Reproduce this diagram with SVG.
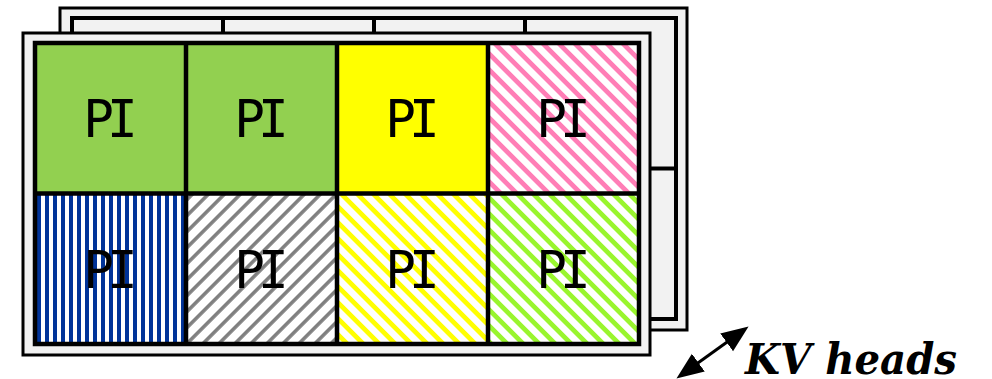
<svg xmlns="http://www.w3.org/2000/svg" width="992" height="379" viewBox="0 0 992 379">
<defs>
<style>
.frame{fill:#f2f2f2;stroke:#000;stroke-width:3}
.grid{fill:none;stroke:#000;stroke-width:4.5}
.bgrid{fill:#f2f2f2;stroke:#000;stroke-width:4}
.lbl{font-family:"DejaVu Sans Mono",monospace;font-size:51px;letter-spacing:-7px;fill:#000;text-anchor:middle}
.kv{font-family:"DejaVu Serif",serif;font-size:43px;font-weight:bold;font-style:italic;fill:#000}
</style>
<pattern id="pk" width="11.314" height="11.314" patternUnits="userSpaceOnUse" patternTransform="rotate(-45)"><rect width="11.314" height="11.314" fill="#fff"/><rect width="4.7" height="11.314" fill="#ff7eb6"/></pattern>
<pattern id="yl" width="11.314" height="11.314" patternUnits="userSpaceOnUse" patternTransform="rotate(-45)"><rect width="11.314" height="11.314" fill="#fff"/><rect width="4.7" height="11.314" fill="#ffff00"/></pattern>
<pattern id="lg" width="11.314" height="11.314" patternUnits="userSpaceOnUse" patternTransform="rotate(-45)"><rect width="11.314" height="11.314" fill="#fff"/><rect width="4.7" height="11.314" fill="#99f52e"/></pattern>
<pattern id="gy" width="11.314" height="11.314" patternUnits="userSpaceOnUse" patternTransform="rotate(45)"><rect width="11.314" height="11.314" fill="#fff"/><rect width="3.6" height="11.314" fill="#808080"/></pattern>
<pattern id="bl" x="5" width="8" height="8" patternUnits="userSpaceOnUse"><rect width="8" height="8" fill="#fff"/><rect width="4" height="8" fill="#003399"/></pattern>
<marker id="ah" markerUnits="userSpaceOnUse" markerWidth="30" markerHeight="24" refX="22" refY="11" orient="auto-start-reverse"><path d="M0,0 L27,11 L0,22 Z" fill="#000"/></marker>
</defs>
<g id="back-layer">
<rect class="frame" x="60" y="8" width="627" height="322"/>
<rect class="bgrid" x="72" y="18" width="604" height="301"/>
<path d="M223,18V319M374,18V319M525,18V319M72,168.5H676" fill="none" stroke="#000" stroke-width="4"/>
</g>
<g id="front-layer">
<rect class="frame" x="23" y="33" width="627" height="322"/>
</g>
<g id="cell-1"><rect x="35" y="43" width="151" height="150.5" fill="#92d050"/><text class="lbl" x="107" y="137">PI</text></g>
<g id="cell-2"><rect x="186" y="43" width="151" height="150.5" fill="#92d050"/><text class="lbl" x="258" y="137">PI</text></g>
<g id="cell-3"><rect x="337" y="43" width="151" height="150.5" fill="#ffff00"/><text class="lbl" x="409" y="137">PI</text></g>
<g id="cell-4"><rect x="488" y="43" width="151" height="150.5" fill="url(#pk)"/><text class="lbl" x="560" y="137">PI</text></g>
<g id="cell-5"><rect x="35" y="193.5" width="151" height="150.5" fill="url(#bl)"/><text class="lbl" x="107" y="288">PI</text></g>
<g id="cell-6"><rect x="186" y="193.5" width="151" height="150.5" fill="url(#gy)"/><text class="lbl" x="258" y="288">PI</text></g>
<g id="cell-7"><rect x="337" y="193.5" width="151" height="150.5" fill="url(#yl)"/><text class="lbl" x="409" y="288">PI</text></g>
<g id="cell-8"><rect x="488" y="193.5" width="151" height="150.5" fill="url(#lg)"/><text class="lbl" x="560" y="288">PI</text></g>
<g id="grid-lines">
<rect class="grid" x="35" y="43" width="604" height="301"/>
<path class="grid" d="M186,43V344M337,43V344M488,43V344M35,193.5H639"/>
</g>
<g id="connectors">
<line x1="680.5" y1="375.5" x2="744.5" y2="329.5" stroke="#000" stroke-width="3" marker-start="url(#ah)" marker-end="url(#ah)"/>
</g>
<g id="label-kv"><text class="kv" x="745" y="374" textLength="212" lengthAdjust="spacingAndGlyphs">KV heads</text></g>
</svg>
